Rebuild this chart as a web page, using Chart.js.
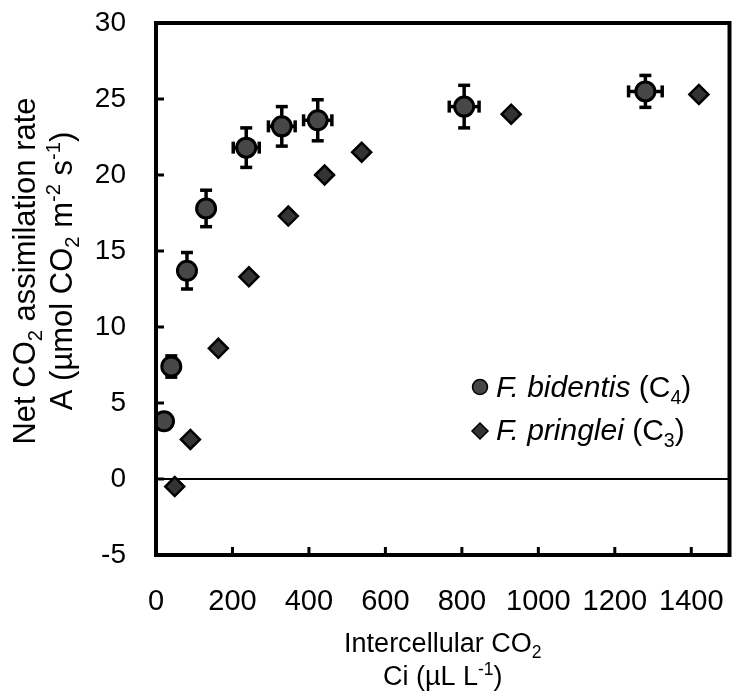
<!DOCTYPE html>
<html><head><meta charset="utf-8">
<script src="https://cdn.jsdelivr.net/npm/chart.js@4/dist/chart.umd.min.js"></script>
<style>html,body{margin:0;padding:0;background:#fff;}#wrap{width:742px;height:700px;}</style>
</head><body><div id="wrap"><canvas id="c" width="742" height="700"></canvas></div>
<script>
// ---- data ----
const xTicks = [0, 200, 400, 600, 800, 1000, 1200, 1400];
const yTicks = [-5, 0, 5, 10, 15, 20, 25, 30];

const bidentisCi    = [21, 40, 81, 131, 236, 329, 423, 806, 1280];
const bidentisA     = [3.8, 7.4, 13.7, 17.8, 21.8, 23.2, 23.6, 24.5, 25.5];
const bidentisAErr  = [0, 0.7, 1.2, 1.2, 1.3, 1.3, 1.35, 1.4, 1.05];
const bidentisCiErr = [0, 0, 0, 0, 34, 35, 37, 39, 44];

const pringleiCi = [49, 90, 163, 243, 346, 441, 538, 929, 1420];
const pringleiA  = [-0.5, 2.6, 8.6, 13.3, 17.3, 20.0, 21.5, 24.0, 25.3];

// ---- texts (rich segments) ----
const yTitle1 = [{t:'Net CO'},{t:'2',sub:true},{t:' assimilation rate'}];
const yTitle2 = [{t:'A (µmol CO'},{t:'2',sub:true},{t:' m'},{t:'-2',sup:true},{t:' s'},{t:'-1',sup:true},{t:')'}];
const xTitle1 = [{t:'Intercellular CO'},{t:'2',sub:true}];
const xTitle2 = [{t:'Ci (µL L'},{t:'-1',sup:true},{t:')'}];
const legend1 = [{t:'F. bidentis',it:true},{t:' (C'},{t:'4',sub:true},{t:')'}];
const legend2 = [{t:'F. pringlei',it:true},{t:' (C'},{t:'3',sub:true},{t:')'}];

const FAM = '"Liberation Sans", Arial, sans-serif';

function segFont(s, size){
  const sz = (s.sub||s.sup) ? size*0.65 : size;
  return (s.it?'italic ':'') + sz + 'px ' + FAM;
}
function richWidth(ctx, segs, size){
  let w = 0;
  segs.forEach(s=>{ ctx.font = segFont(s,size); w += ctx.measureText(s.t).width; });
  return w;
}
function drawRich(ctx, segs, x, y, size, align){
  let w = richWidth(ctx, segs, size);
  let cx = align==='center' ? x - w/2 : x;
  ctx.textBaseline = 'alphabetic';
  ctx.textAlign = 'left';
  ctx.fillStyle = '#000';
  segs.forEach(s=>{
    ctx.font = segFont(s,size);
    let dy = s.sub ? size*0.22 : (s.sup ? -size*0.38 : 0);
    ctx.fillText(s.t, cx, y+dy);
    cx += ctx.measureText(s.t).width;
  });
}

const decor = {
  id:'decor',
  beforeDatasetsDraw(chart){
    const {ctx, chartArea:a, scales:{x,y}} = chart;
    ctx.save();
    ctx.strokeStyle='#000'; ctx.lineWidth=2;
    const y0 = y.getPixelForValue(0);
    ctx.beginPath(); ctx.moveTo(a.left,y0); ctx.lineTo(a.right,y0); ctx.stroke();
    ctx.lineWidth=3.5;
    const seg=(x1,y1,x2,y2)=>{ctx.beginPath();ctx.moveTo(x1,y1);ctx.lineTo(x2,y2);ctx.stroke();};
    bidentisCi.forEach((ci,i)=>{
      const px=x.getPixelForValue(ci), py=y.getPixelForValue(bidentisA[i]);
      const ey=bidentisAErr[i], ex=bidentisCiErr[i];
      if(ey>0){
        const t=y.getPixelForValue(bidentisA[i]+ey), b=y.getPixelForValue(bidentisA[i]-ey);
        seg(px,t,px,b); seg(px-6,t,px+6,t); seg(px-6,b,px+6,b);
      }
      if(ex>0){
        const l=x.getPixelForValue(ci-ex), r=x.getPixelForValue(ci+ex);
        seg(l,py,r,py); seg(l,py-6,l,py+6); seg(r,py-6,r,py+6);
      }
    });
    ctx.restore();
  },
  afterDatasetsDraw(chart){
    const {ctx, chartArea:a, scales:{x,y}} = chart;
    ctx.save();
    ctx.strokeStyle='#000';
    ctx.lineWidth=3;
    yTicks.forEach(v=>{const p=y.getPixelForValue(v);ctx.beginPath();ctx.moveTo(a.left,p);ctx.lineTo(a.left+8,p);ctx.stroke();});
    xTicks.forEach(v=>{const p=x.getPixelForValue(v);ctx.beginPath();ctx.moveTo(p,a.bottom);ctx.lineTo(p,a.bottom-8);ctx.stroke();});
    ctx.lineWidth=4;
    ctx.strokeRect(a.left,a.top,a.right-a.left,a.bottom-a.top);
    ctx.restore();
  },
  afterDraw(chart){
    const {ctx, chartArea:a} = chart;
    ctx.save();
    const cy = 271;
    ctx.save(); ctx.translate(35,cy); ctx.rotate(-Math.PI/2); drawRich(ctx,yTitle1,0,0,31,'center'); ctx.restore();
    ctx.save(); ctx.translate(72,cy); ctx.rotate(-Math.PI/2); drawRich(ctx,yTitle2,0,0,31,'center'); ctx.restore();
    const cx = (a.left+a.right)/2;
    drawRich(ctx,xTitle1,cx,652,27,'center');
    drawRich(ctx,xTitle2,cx,685,27,'center');
    ctx.lineWidth=1.5; ctx.strokeStyle='#000';
    ctx.fillStyle='#474747';
    ctx.beginPath(); ctx.arc(480,387,7.5,0,Math.PI*2); ctx.fill(); ctx.stroke();
    ctx.fillStyle='#333';
    ctx.beginPath(); ctx.moveTo(472,431); ctx.lineTo(480,423); ctx.lineTo(488,431); ctx.lineTo(480,439); ctx.closePath(); ctx.fill(); ctx.stroke();
    drawRich(ctx,legend1,496,397,30,'left');
    drawRich(ctx,legend2,496,440,30,'left');
    ctx.restore();
  }
};

new Chart(document.getElementById('c'), {
  type:'scatter',
  data:{
    datasets:[
      {label:'F. bidentis (C4)', data: bidentisCi.map((v,i)=>({x:v,y:bidentisA[i]})),
       pointStyle:'circle', pointRadius:9.5, pointHoverRadius:9.5, backgroundColor:'#474747', borderColor:'#000', borderWidth:3},
      {label:'F. pringlei (C3)', data: pringleiCi.map((v,i)=>({x:v,y:pringleiA[i]})),
       pointStyle:'rectRot', pointRadius:9.5, pointHoverRadius:9.5, backgroundColor:'#333', borderColor:'#000', borderWidth:2.5}
    ]
  },
  options:{
    responsive:false, animation:false, devicePixelRatio:1,
    layout:{padding:{top:23,right:5,left:0,bottom:0}},
    plugins:{legend:{display:false}, tooltip:{enabled:false}},
    scales:{
      x:{type:'linear', min:0, max:1500,
         afterBuildTicks:s=>{s.ticks=xTicks.map(v=>({value:v}));},
         afterFit:s=>{s.height=145; s.paddingLeft=0; s.paddingRight=0;},
         grid:{display:false,drawTicks:false}, border:{display:false},
         ticks:{font:{family:FAM,size:29}, color:'#000', padding:30, maxRotation:0, autoSkip:false,
                callback:v=>String(v)}},
      y:{type:'linear', min:-5, max:30,
         afterBuildTicks:s=>{s.ticks=yTicks.map(v=>({value:v}));},
         afterFit:s=>{s.width=156; s.paddingTop=0; s.paddingBottom=0;},
         grid:{display:false,drawTicks:false}, border:{display:false},
         ticks:{font:{family:FAM,size:28}, color:'#000', padding:30, autoSkip:false,
                callback:v=>String(v)}}
    }
  },
  plugins:[decor]
});
</script></body></html>
